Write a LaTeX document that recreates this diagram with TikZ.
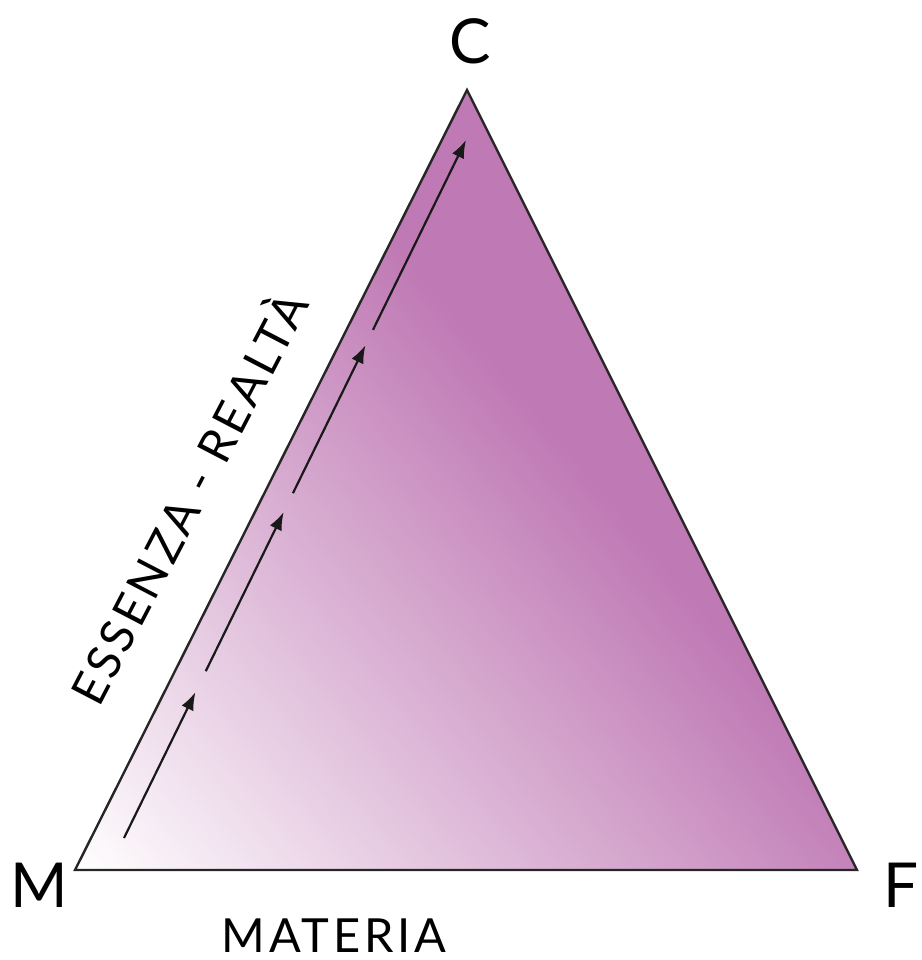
\documentclass[tikz,border=0pt]{standalone}
\usepackage{fontspec}
\setmainfont{Lato}
\newfontfamily\sidefont[LetterSpace=8]{Lato}
\newfontfamily\edgefont[LetterSpace=8]{Lato}
\usetikzlibrary{arrows.meta,calc}
\definecolor{tripurple}{RGB}{191,121,180}
\tikzset{
  edge/.style={line width=2.4pt, line join=miter, draw=black!85},
  flow/.style={line width=2.2pt, draw=black!90, -{Latex[length=18pt,width=13pt]}},
  vlabel/.style={font=\fontsize{62}{62}\selectfont, inner sep=0pt},
  sidelabel/.style={font=\sidefont\fontsize{47}{47}\selectfont, inner sep=0pt},
  edgelabel/.style={font=\edgefont\fontsize{47}{47}\selectfont, inner sep=0pt}
}
\begin{document}
\begin{tikzpicture}[x=1pt,y=-1pt]
\useasboundingbox (0,0) rectangle (921,960);
\coordinate (M) at (75,870);
\coordinate (F) at (857,870);
\coordinate (C) at (467,90);
\begin{scope}
  \clip (M) -- (F) -- (C) -- cycle;
  \fill[tripurple] (0,0) rectangle (921,960);
  \begin{scope}[transform canvas={rotate around={40:(M)}}]
    \shade[left color=white, right color=tripurple]
      ($(M)+(0,-900)$) rectangle ($(M)+(650,900)$);
  \end{scope}
\end{scope}
\draw[edge] (M) -- (F) -- (C) -- cycle;
% arrow segments
\coordinate (P0) at (124,838);
\coordinate (P1) at (466,140);
\coordinate (s1a) at ($(P0)!0.000!(P1)$);
\coordinate (s1b) at ($(P0)!0.209!(P1)$);
\coordinate (s2a) at ($(P0)!0.239!(P1)$);
\coordinate (s2b) at ($(P0)!0.467!(P1)$);
\coordinate (s3a) at ($(P0)!0.494!(P1)$);
\coordinate (s3b) at ($(P0)!0.706!(P1)$);
\coordinate (s4a) at ($(P0)!0.728!(P1)$);
\coordinate (s4b) at ($(P0)!1.000!(P1)$);
\draw[flow] (s1a) -- (s1b);
\draw[flow] (s2a) -- (s2b);
\draw[flow] (s3a) -- (s3b);
\draw[flow] (s4a) -- (s4b);
% labels
\node[vlabel] (lc) at (470,41) {C};
\node[vlabel] (lm) at (39,885) {M};
\node[vlabel] (lf) at (901,885) {F};
\node[sidelabel] (lmat) at (334,936) {MATERIA};
\node[edgelabel, anchor=base west, rotate=62.5] (less) at (99,709) {ESSENZA - REALTÀ};
\end{tikzpicture}
\end{document}
